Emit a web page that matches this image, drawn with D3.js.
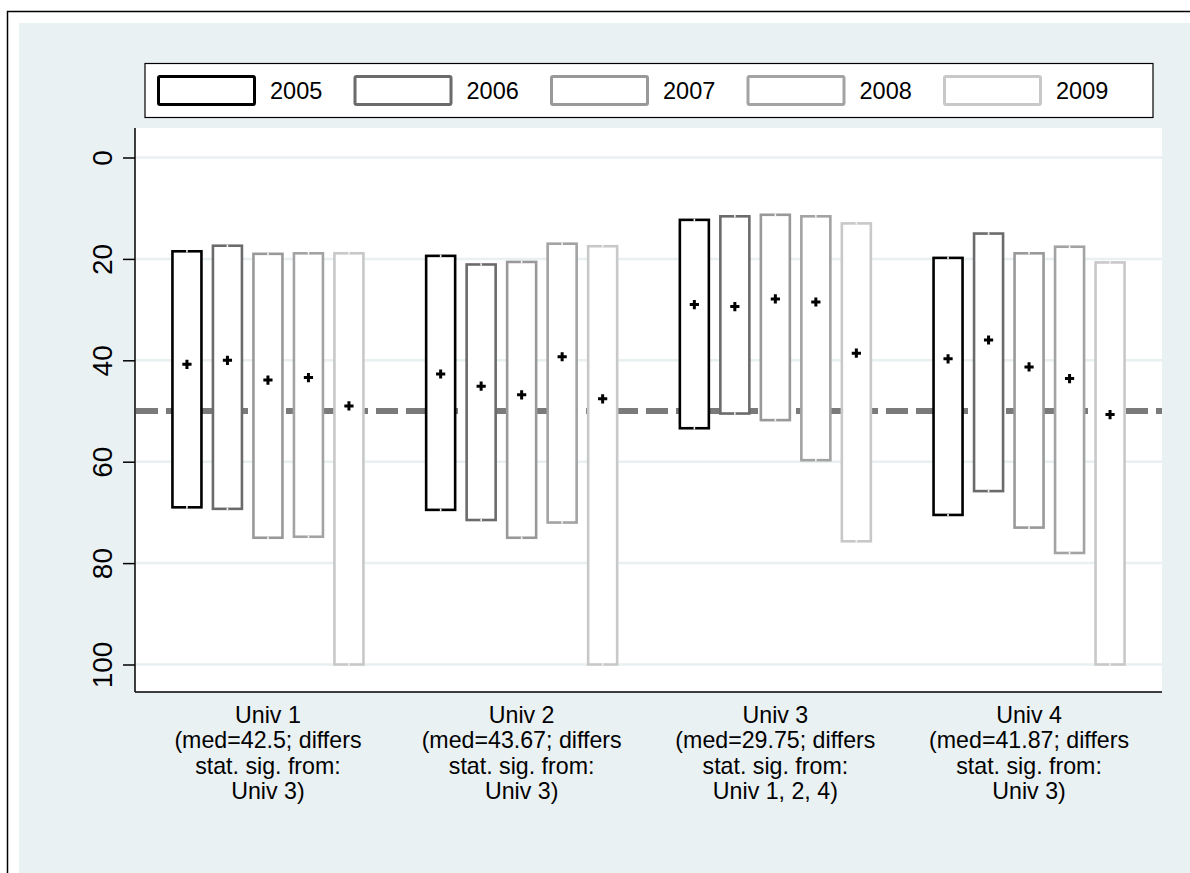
<!DOCTYPE html>
<html>
<head>
<meta charset="utf-8">
<script src="https://cdn.jsdelivr.net/npm/d3@7"></script>
<style>
  html, body { margin: 0; padding: 0; background: #ffffff; }
  svg { display: block; font-family: "Liberation Sans", Arial, Helvetica, sans-serif; }
</style>
</head>
<body>
<svg id="chart" width="1190" height="873"></svg>
<script>
// ---------------- data ----------------
const categories = ["Univ 1", "Univ 2", "Univ 3", "Univ 4"];
const years = ["2005", "2006", "2007", "2008", "2009"];
const categoryLabels = [
  ["Univ 1", "(med=42.5; differs", "stat. sig. from:", "Univ 3)"],
  ["Univ 2", "(med=43.67; differs", "stat. sig. from:", "Univ 3)"],
  ["Univ 3", "(med=29.75; differs", "stat. sig. from:", "Univ 1, 2, 4)"],
  ["Univ 4", "(med=41.87; differs", "stat. sig. from:", "Univ 3)"]
];
// top edge (lower value) of each range box, per university, per year
const rangeLow = [
  [18.5, 17.4, 19.0, 18.9, 18.9],
  [19.4, 21.1, 20.6, 17.0, 17.5],
  [12.3, 11.6, 11.3, 11.6, 13.0],
  [19.8, 15.0, 18.9, 17.6, 20.7]
];
// bottom edge (higher value)
const rangeHigh = [
  [69.0, 69.3, 75.0, 74.8, 100],
  [69.5, 71.5, 75.0, 72.0, 100],
  [53.4, 50.5, 51.8, 59.7, 75.7],
  [70.5, 65.8, 73.0, 78.0, 100]
];
// mean markers
const means = [
  [40.8, 40.0, 43.9, 43.4, 49.0],
  [42.7, 45.1, 46.8, 39.3, 47.6],
  [29.0, 29.4, 27.9, 28.5, 38.6],
  [39.7, 36.0, 41.3, 43.6, 50.7]
];
const yTicks = [0, 20, 40, 60, 80, 100];
const refValue = 50;

// ---------------- styles ----------------
const yearColors = ["#000000", "#6b6b6b", "#999999", "#a3a3a3", "#c8c8c8"];
const bgColor = "#eaf1f3";

const svg = d3.select("#chart");

// outer frame (extends past the window on right/bottom)
svg.append("rect").attr("x", 7.5).attr("y", 11.5).attr("width", 1300).attr("height", 1000)
  .attr("fill", "#ffffff").attr("stroke", "#000").attr("stroke-width", 1.5);
svg.append("rect").attr("x", 19).attr("y", 23).attr("width", 1300).attr("height", 1000)
  .attr("fill", bgColor);

// plot area
const plot = { left: 135, right: 1162, top: 128, bottom: 692 };
svg.append("rect").attr("x", plot.left).attr("y", plot.top)
  .attr("width", plot.right - plot.left).attr("height", plot.bottom - plot.top)
  .attr("fill", "#ffffff");

const y = d3.scaleLinear().domain([0, 100]).range([157.5, 664.5]);
const xGroup = d3.scalePoint().domain(categories).range([plot.left, plot.right]).padding(0.524);
const xYear = d3.scalePoint().domain(years).range([-81, 81]);
const boxW = 29;

// gridlines
svg.append("g").selectAll("line").data(yTicks).join("line")
  .attr("x1", plot.left + 1).attr("x2", plot.right)
  .attr("y1", d => y(d)).attr("y2", d => y(d))
  .attr("stroke", "#e8f0f2").attr("stroke-width", 2.5);

// reference line
svg.append("line")
  .attr("x1", plot.left + 1).attr("x2", plot.right)
  .attr("y1", y(refValue)).attr("y2", y(refValue))
  .attr("stroke", "#7a7a7a").attr("stroke-width", 6)
  .attr("stroke-dasharray", "22,8");

// boxes
const boxData = [];
categories.forEach((c, i) => years.forEach((yr, j) => {
  boxData.push({ c, yr, j, lo: rangeLow[i][j], hi: rangeHigh[i][j], mean: means[i][j] });
}));

const boxes = svg.append("g");
boxes.selectAll("rect").data(boxData).join("rect")
  .attr("x", d => xGroup(d.c) + xYear(d.yr) - boxW / 2)
  .attr("y", d => y(d.lo))
  .attr("width", boxW)
  .attr("height", d => y(d.hi) - y(d.lo))
  .attr("fill", "#ffffff")
  .attr("stroke", d => yearColors[d.j])
  .attr("stroke-width", 2.6);

// small whisker notch marks at box ends
boxes.selectAll("line.notch").data(boxData.flatMap(d => [{ d, v: d.lo }, { d, v: d.hi }])).join("line")
  .attr("class", "notch")
  .attr("x1", e => xGroup(e.d.c) + xYear(e.d.yr)).attr("x2", e => xGroup(e.d.c) + xYear(e.d.yr))
  .attr("y1", e => y(e.v) - 1.3).attr("y2", e => y(e.v) + 1.3)
  .attr("stroke", "#f2f2f2").attr("stroke-width", 1.6);

// mean markers (+)
const arm = 4.6;
const marks = svg.append("g");
marks.selectAll("path").data(boxData).join("path")
  .attr("d", d => {
    const cx = xGroup(d.c) + xYear(d.yr), cy = y(d.mean);
    return `M${cx - arm},${cy}H${cx + arm}M${cx},${cy - arm}V${cy + arm}`;
  })
  .attr("stroke", "#000").attr("stroke-width", 3).attr("fill", "none");

// axes
const yAxis = svg.append("g").attr("transform", `translate(${plot.left},0)`)
  .call(d3.axisLeft(y).tickValues(yTicks).tickSize(12).tickPadding(0).tickFormat(d3.format("d")));
yAxis.select(".domain").attr("d", `M0,${plot.top}V${plot.bottom}`).attr("stroke", "#000").attr("stroke-width", 1.5);
yAxis.selectAll(".tick line").attr("stroke", "#000").attr("stroke-width", 1.5);
yAxis.selectAll(".tick text")
  .attr("x", null).attr("dy", null)
  .attr("transform", "translate(-23,0) rotate(-90)")
  .attr("text-anchor", "middle")
  .attr("font-size", 28)
  .attr("font-family", "Liberation Sans, Arial, sans-serif")
  .attr("fill", "#000");

// bottom axis line
svg.append("line").attr("x1", plot.left).attr("x2", plot.right)
  .attr("y1", plot.bottom).attr("y2", plot.bottom)
  .attr("stroke", "#000").attr("stroke-width", 1.5);

// category labels
const catG = svg.append("g");
categories.forEach((c, i) => {
  const t = catG.append("text")
    .attr("x", xGroup(c)).attr("y", 723)
    .attr("text-anchor", "middle").attr("font-size", 23.2).attr("fill", "#000");
  categoryLabels[i].forEach((line, k) => {
    t.append("tspan").attr("x", xGroup(c)).attr("y", 723 + k * 25.4).text(line);
  });
});

// legend
const leg = { x: 145, y: 63.5, w: 1008, h: 54 };
svg.append("rect").attr("x", leg.x).attr("y", leg.y).attr("width", leg.w).attr("height", leg.h)
  .attr("fill", "#fff").attr("stroke", "#000").attr("stroke-width", 1.2);
const legX = d3.scalePoint().domain(years).range([157, 943]);
const lg = svg.append("g").selectAll("g").data(years).join("g")
  .attr("transform", d => `translate(${legX(d)},0)`);
lg.append("rect").attr("x", 1.5).attr("y", 76.5).attr("width", 96).attr("height", 28)
  .attr("rx", 1.5)
  .attr("fill", "#fff").attr("stroke", (d, i) => yearColors[i]).attr("stroke-width", 3);
lg.append("text").attr("x", 113).attr("y", 99).attr("font-size", 23.5).attr("fill", "#000")
  .text(d => d);
</script>
</body>
</html>
